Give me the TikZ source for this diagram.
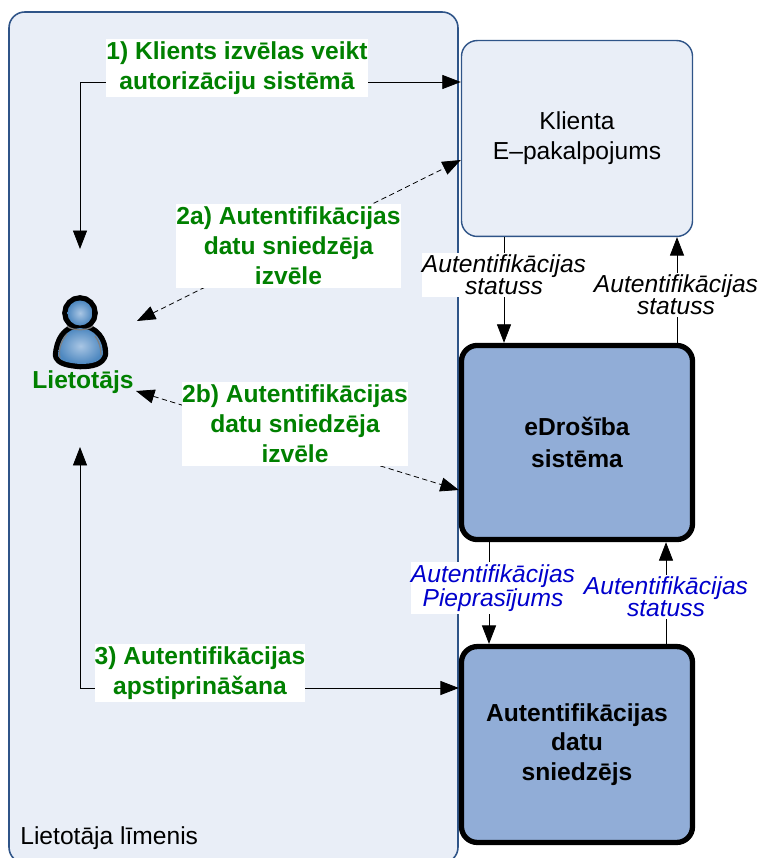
\documentclass[tikz,border=0pt]{standalone}
\usepackage{fontspec}
\setmainfont{Liberation Sans}
\usepackage{tikz}
\usetikzlibrary{arrows.meta,positioning,calc}

\definecolor{panelfill}{HTML}{E9EEF7}
\definecolor{panelline}{HTML}{2F5488}
\definecolor{boxfill}{HTML}{91ADD7}
\definecolor{labelgreen}{HTML}{008000}
\definecolor{labelblue}{HTML}{0000CC}
\definecolor{iconlight}{HTML}{A9C6E4}
\definecolor{icondark}{HTML}{4E88C0}

\newcommand{\userbody}{(80,328) .. controls (66,329) and (59,340) .. (58,356)
    .. controls (60,361) and (68,363) .. (80,364)
    .. controls (92,364) and (101,362) .. (103,354)
    .. controls (103,340) and (95,329) .. (80,328) -- cycle}

\tikzset{
    panel/.style={draw=panelline, fill=panelfill, line width=0.9pt, rounded corners=9pt},
    clientbox/.style={draw=panelline, fill=panelfill, line width=0.8pt, rounded corners=9pt, minimum width=131.5pt, minimum height=111.5pt, align=center, font=\fontsize{14}{17}\selectfont},
    systembox/.style={draw=black, fill=boxfill, line width=3pt, rounded corners=9pt, minimum width=131.5pt, align=center, font=\fontsize{14}{17}\selectfont\bfseries},
    flow/.style={-{Triangle[length=10.5pt,width=8pt]}, line width=0.45pt},
    flowboth/.style={{Triangle[length=10.5pt,width=8pt]}-{Triangle[length=10.5pt,width=8pt]}, line width=0.45pt},
    dashflow/.style={flowboth, dash pattern=on 3pt off 2pt},
    steplabel/.style={fill=white, align=center, inner xsep=0pt, inner ysep=1.5pt, text=labelgreen, font=\fontsize{14}{17}\selectfont\bfseries},
    statuslabel/.style={fill=white, align=center, inner xsep=0pt, inner ysep=1pt, font=\fontsize{14}{12.5}\selectfont\itshape},
}

\begin{document}
\begin{tikzpicture}[x=0.02cm,y=-0.02cm]
    \useasboundingbox (0,0) rectangle (760,858);

    % User level panel
    \path[clip] (0,0) rectangle (760,858);
    \draw[panel] (9,12) rectangle (458,863);
    \node[anchor=west, inner sep=0pt, font=\fontsize{14}{17}\selectfont] (level) at (20,838) {Lietotāja līmenis};

    % Boxes
    \node[clientbox] (client) at (577,138.5) {Klienta\\E--pakalpojums};
    \node[systembox, minimum height=110.5pt] (system) at (577,442.5) {eDrošība\\[1pt]sistēma};
    \node[systembox, minimum height=111.5pt] (provider) at (577,744.5) {Autentifikācijas\\datu\\sniedzējs};

    % User icon
    \draw[line width=6pt, line join=round] \userbody;
    \draw[line width=6pt] (80,313) circle (12.5);
    \shade[inner color=iconlight, outer color=icondark] \userbody;
    \shade[inner color=iconlight, outer color=icondark] (80,313) circle (12.5);
    \draw[line width=0.7pt, gray] (67,326) .. controls (72,331) and (88,331) .. (93,326);
    \draw[line width=0.7pt, gray] (60,358) .. controls (58,350) and (61,341) .. (67,334);
    \draw[line width=0.7pt, gray] (101,355) .. controls (101,348) and (99,341) .. (95,336);
    \node[text=labelgreen, inner sep=0pt, font=\fontsize{14}{17}\selectfont\bfseries] (user) at (83,382) {Lietotājs};

    % Free ends of the arcs
    \coordinate (corner1) at (80,82);
    \coordinate (user1) at (80,249);
    \coordinate (user2a) at (137,321);
    \coordinate (user2b) at (136,391);
    \coordinate (user3) at (80,447);
    \coordinate (corner3) at (80,688);

    % Arcs in the user level
    \draw[flowboth] (user1) -- (corner1) -- (client.west |- corner1);
    \draw[dashflow] (user2a) -- ($(client.west)+(0,21.5)$);
    \draw[dashflow] (user2b) -- ($(system.west)+(0,47.5)$);
    \draw[flowboth] (user3) -- (corner3) -- (provider.west |- corner3);

    % Arcs between the boxes
    \draw[flow] (client.south -| 504,0) -- (system.north -| 504,0);
    \draw[flow] (system.north -| 677,0) -- (client.south -| 677,0);
    \draw[flow] (system.south -| 489,0) -- (provider.north -| 489,0);
    \draw[flow] (provider.north -| 666,0) -- (system.south -| 666,0);

    % Step labels
    \node[steplabel] (step1) at (237,68) {1) Klients izvēlas veikt\\autorizāciju sistēmā};
    \node[steplabel] (step2a) at (288.5,246) {2a) Autentifikācijas\\datu sniedzēja\\izvēle};
    \node[steplabel] (step2b) at (295,424) {2b) Autentifikācijas\\datu sniedzēja\\izvēle};
    \node[steplabel] (step3) at (200,673) {3) Autentifikācijas\\apstiprināšana};

    % Status labels
    \node[statuslabel] (status1) at (504,275) {Autentifikācijas\\statuss};
    \node[statuslabel] (status2) at (676,295) {Autentifikācijas\\statuss};
    \node[statuslabel, text=labelblue] (request) at (493,588) {Autentifikācijas\\Pieprasījums};
    \node[statuslabel, text=labelblue] (status3) at (666,597) {Autentifikācijas\\statuss};
\end{tikzpicture}
\end{document}
